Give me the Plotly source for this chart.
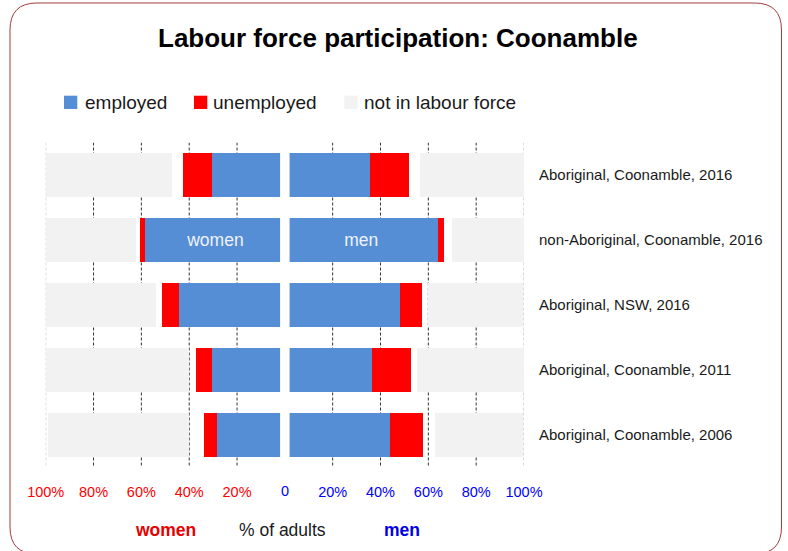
import plotly.graph_objects as go

W, H = 788, 551
FONT = "Liberation Sans, Arial, sans-serif"

# ---- data (percent of adults) ----
categories = ["Aboriginal, Coonamble, 2016",
              "non-Aboriginal, Coonamble, 2016",
              "Aboriginal, NSW, 2016",
              "Aboriginal, Coonamble, 2011",
              "Aboriginal, Coonamble, 2006"]

women_employed = [30.6, 58.5, 44.1, 30.3, 28.4]
women_unemployed = [11.9, 2.1, 7.1, 6.8, 5.3]
women_not_stated = [4.8, 1.8, 2.6, 2.9, 6.3]
women_not_in_lf = [52.7, 37.6, 46.1, 59.9, 59.1]

men_employed = [35.6, 63.9, 48.0, 36.3, 43.8]
men_unemployed = [16.3, 2.8, 9.5, 16.3, 14.0]
men_not_stated = [4.6, 3.2, 2.5, 2.7, 4.9]
men_not_in_lf = [43.5, 30.1, 39.7, 44.7, 36.8]

women_bar_label = ["", "women", "", "", ""]
men_bar_label = ["", "men", "", "", ""]

tick_vals = [20, 40, 60, 80, 100]
tick_text = ["20%", "40%", "60%", "80%", "100%"]

BLUE = "#558ed5"
RED = "#ff0000"
GREY = "#f2f2f2"


def px(x):
    return x / W


def py(y):
    return 1 - y / H


fig = go.Figure()

sides = [
    ("x", "y", women_employed, women_unemployed, women_not_stated, women_not_in_lf, women_bar_label),
    ("x2", "y2", men_employed, men_unemployed, men_not_stated, men_not_in_lf, men_bar_label),
]
for xa, ya, emp, unemp, ns, nilf, lab in sides:
    fig.add_trace(go.Bar(y=categories, x=emp, orientation="h", xaxis=xa, yaxis=ya,
                         marker=dict(color=BLUE, line=dict(width=0)),
                         text=lab, textposition="inside", insidetextanchor="middle",
                         textangle=0, constraintext="none",
                         textfont=dict(color="#eef3fb", size=17.5, family=FONT),
                         showlegend=False, name="employed"))
    fig.add_trace(go.Bar(y=categories, x=unemp, orientation="h", xaxis=xa, yaxis=ya,
                         marker=dict(color=RED, line=dict(width=0)),
                         showlegend=False, name="unemployed"))
    fig.add_trace(go.Bar(y=categories, x=ns, orientation="h", xaxis=xa, yaxis=ya,
                         marker=dict(color="rgba(0,0,0,0)", line=dict(width=0)),
                         showlegend=False, name="not stated"))
    fig.add_trace(go.Bar(y=categories, x=nilf, orientation="h", xaxis=xa, yaxis=ya,
                         marker=dict(color=GREY, line=dict(width=0)),
                         showlegend=False, name="not in labour force"))

# ---- gridlines (dashed, drawn below bars) ----
shapes = []
for xr, yr in [("x", "y"), ("x2", "y2")]:
    for v in tick_vals:
        shapes.append(dict(type="line", xref=xr, yref=yr, x0=v, x1=v, y0=-0.5, y1=4.5,
                           layer="below",
                           line=dict(color="#b4b4b4" if v == 100 else "#333333",
                                     width=1, dash="3px,2px")))

# rounded frame
r = 27
x0, x1, y0, y1 = 10, 781.5, 3, 554


def P(x, y):
    return f"{px(x):.5f},{py(y):.5f}"


frame = (f"M{P(x0 + r, y0)} L{P(x1 - r, y0)} Q{P(x1, y0)} {P(x1, y0 + r)} "
         f"L{P(x1, y1 - r)} Q{P(x1, y1)} {P(x1 - r, y1)} L{P(x0 + r, y1)} "
         f"Q{P(x0, y1)} {P(x0, y1 - r)} L{P(x0, y0 + r)} Q{P(x0, y0)} {P(x0 + r, y0)} Z")
shapes.append(dict(type="path", xref="paper", yref="paper", path=frame,
                   line=dict(color="#a23b3b", width=1)))

# legend squares
legend_items = [("employed", BLUE, 64, 82.7), ("unemployed", RED, 194, 210.7),
                ("not in labour force", GREY, 344.3, 362.3)]
annotations = []
for name, col, sx, tx in legend_items:
    shapes.append(dict(type="rect", xref="paper", yref="paper",
                       x0=px(sx), x1=px(sx + 13.3), y0=py(109), y1=py(95.7),
                       fillcolor=col, line=dict(width=0)))
    annotations.append(dict(x=px(tx), y=py(102.5), xref="paper", yref="paper",
                            text=name, showarrow=False, xanchor="left", yanchor="middle",
                            font=dict(size=19, color="#1a1a1a", family=FONT)))

annotations += [
    dict(x=px(397.5), y=py(38), xref="paper", yref="paper", showarrow=False,
         text="Labour force participation: Coonamble", xanchor="center", yanchor="middle",
         font=dict(size=26, color="black", family=FONT, weight="bold")),
    dict(x=px(284.85), y=py(490.7), xref="paper", yref="paper", showarrow=False,
         text="0", xanchor="center", yanchor="middle",
         font=dict(size=14.5, color="#0000ff", family=FONT)),
    dict(x=px(165.5), y=py(530), xref="paper", yref="paper", showarrow=False,
         text="women", xanchor="center", yanchor="middle",
         font=dict(size=17.5, color="#e60000", family=FONT, weight="bold")),
    dict(x=px(282.5), y=py(530), xref="paper", yref="paper", showarrow=False,
         text="% of adults", xanchor="center", yanchor="middle",
         font=dict(size=17.5, color="#1a1a1a", family=FONT)),
    dict(x=px(402), y=py(530), xref="paper", yref="paper", showarrow=False,
         text="men", xanchor="center", yanchor="middle",
         font=dict(size=17.5, color="#0000e6", family=FONT, weight="bold")),
]

ydom = [py(467.5), py(142.5)]
axis_common = dict(showgrid=False, zeroline=False, showline=False, ticks="",
                   automargin=False, fixedrange=True)

fig.update_layout(
    width=W, height=H,
    template="none",
    barmode="stack", bargap=0.334,
    margin=dict(l=0, r=0, t=0, b=0),
    paper_bgcolor="white", plot_bgcolor="rgba(0,0,0,0)",
    font=dict(family=FONT),
    showlegend=False,
    xaxis=dict(domain=[px(45.7), px(280.1)], range=[100, 2], anchor="y",
               tickvals=tick_vals, ticktext=tick_text, ticklabelstandoff=14,
               tickfont=dict(size=14.5, color="#ff0000", family=FONT), **axis_common),
    xaxis2=dict(domain=[px(289.6), px(524)], range=[2, 100], anchor="y2",
                tickvals=tick_vals, ticktext=tick_text, ticklabelstandoff=14,
                tickfont=dict(size=14.5, color="#0000ff", family=FONT), **axis_common),
    yaxis=dict(domain=ydom, range=[4.5, -0.5], anchor="x", showticklabels=False,
               **axis_common),
    yaxis2=dict(domain=ydom, range=[4.5, -0.5], anchor="x2", side="right",
                matches="y", ticklabelstandoff=14,
                tickfont=dict(size=15, color="#1a1a1a", family=FONT), **axis_common),
    shapes=shapes,
    annotations=annotations,
)

# page body has a default 8px margin; remove it so the chart sits at the window origin
fig.write_html("out.html", config={"displayModeBar": False},
               post_script="document.body.style.margin='0';")
